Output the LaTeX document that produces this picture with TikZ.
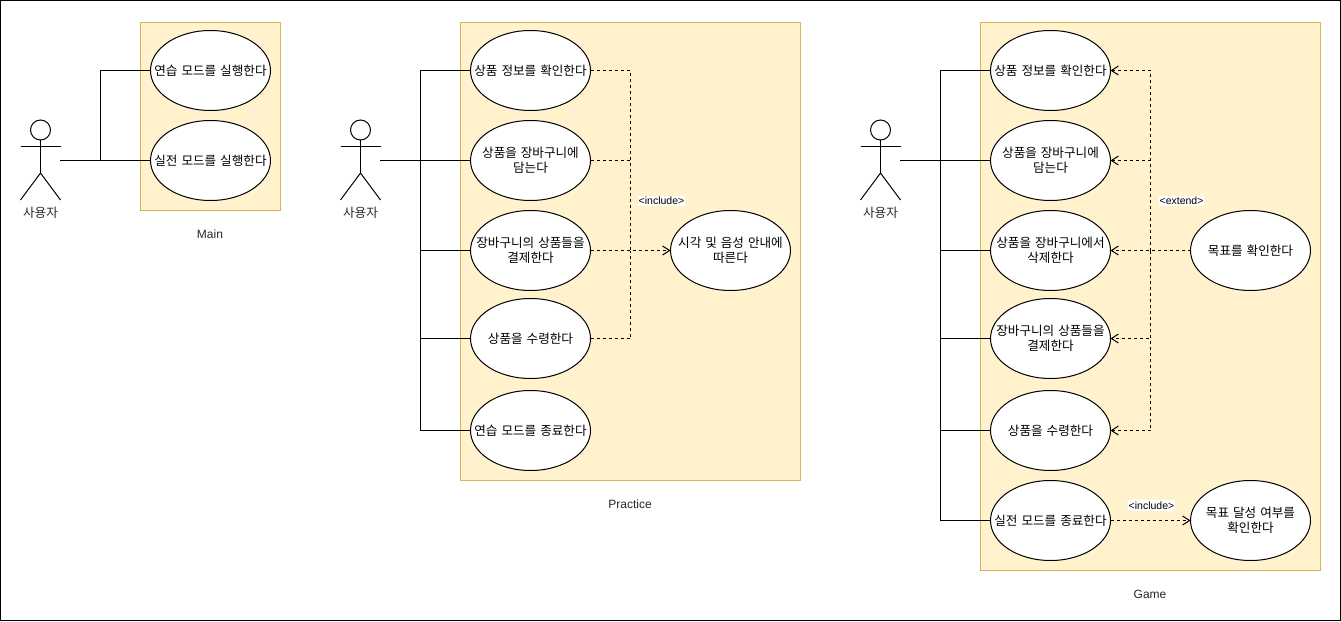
\documentclass[tikz,border=0pt]{standalone}
\usepackage{fontspec}
\setmainfont{Liberation Sans}
\newfontfamily\krfont[WordSpace=1.4]{Noto Sans CJK KR}
\usetikzlibrary{shapes.geometric,arrows.meta}
\tikzset{
  boundary/.style={draw=boundaryline,fill=boundaryfill,line width=1pt},
  usecase/.style={draw=black,fill=white,line width=1pt,ellipse,inner sep=0pt,outer sep=0pt,minimum width=120pt,minimum height=80pt},
  uctext/.style={font=\krfont\fontsize{12.6}{15}\selectfont,align=center,inner sep=0pt,text=black},
  actorline/.style={draw=black,line width=1pt},
  assoc/.style={draw=black,line width=1pt},
  depline/.style={draw=black,line width=1pt,dash pattern=on 3pt off 3pt},
  deparrow/.style={depline,-{Straight Barb[length=7pt,width=9pt,line width=1pt]}},
  actorname/.style={font=\krfont\fontsize{12.6}{14}\selectfont,inner sep=0pt,text=black!85},
  caption/.style={font=\fontsize{12}{14}\selectfont,inner sep=0pt,text=black!85},
  deplabel/.style={font=\fontsize{10.5}{12}\selectfont,fill=white,inner xsep=1pt,inner ysep=1.5pt,text=black},
}
\definecolor{boundaryfill}{HTML}{FFF2CC}
\definecolor{boundaryline}{HTML}{D6B656}
\newcommand{\actorfig}[1]{%
  \draw[actorline] (#1,130) circle (10pt);
  \draw[actorline] (#1,140) -- (#1,173);
  \draw[actorline] (#1-20,146.5) -- (#1+20,146.5);
  \draw[actorline] (#1-20,200) -- (#1,173) -- (#1+20,200);
}
\begin{document}
\begin{tikzpicture}[x=1pt,y=-1pt]
\useasboundingbox (0,0) rectangle (1341,621);
\draw[black,line width=1pt] (0.5,0.5) rectangle (1340.5,620.5);

% boundaries
\draw[boundary] (140.5,22.5) rectangle (280.5,210.5);
\draw[boundary] (460.5,22.5) rectangle (800.5,480.5);
\draw[boundary] (980.5,22.5) rectangle (1320.5,570.5);

% captions
\node[caption] (capm) at (210,234.5) {Main};
\node[caption] (capp) at (630,504.5) {Practice};
\node[caption] (capg) at (1150,594.5) {Game};

% actors
\actorfig{40.5}
\actorfig{360.5}
\actorfig{880.5}
\node[actorname] (an1) at (40.5,212.5) {사용자};
\node[actorname] (an2) at (360.5,212.5) {사용자};
\node[actorname] (an3) at (880.5,212.5) {사용자};
\coordinate (a1) at (60,160.5);
\coordinate (a2) at (380,160.5);
\coordinate (a3) at (900,160.5);
\coordinate (b1) at (100.5,160.5);
\coordinate (b2) at (420.5,160.5);
\coordinate (b3) at (940.5,160.5);

% Main use cases
\node[usecase,label={[uctext]center:{연습 모드를 실행한다}}] (m1) at (210.5,70.5) {};
\node[usecase,label={[uctext]center:{실전 모드를 실행한다}}] (m2) at (210.5,160.5) {};

% Practice use cases
\node[usecase,label={[uctext]center:{상품 정보를 확인한다}}] (p1) at (530.5,70.5) {};
\node[usecase,label={[uctext]center:{상품을 장바구니에\\담는다}}] (p2) at (530.5,160.5) {};
\node[usecase,label={[uctext]center:{장바구니의 상품들을\\결제한다}}] (p3) at (530.5,250.5) {};
\node[usecase,label={[uctext]center:{상품을 수령한다}}] (p4) at (530.5,338.5) {};
\node[usecase,label={[uctext]center:{연습 모드를 종료한다}}] (p5) at (530.5,430.5) {};
\node[usecase,label={[uctext]center:{시각 및 음성 안내에\\따른다}}] (p6) at (730.5,250.5) {};

% Game use cases
\node[usecase,label={[uctext]center:{상품 정보를 확인한다}}] (g1) at (1050.5,70.5) {};
\node[usecase,label={[uctext]center:{상품을 장바구니에\\담는다}}] (g2) at (1050.5,160.5) {};
\node[usecase,label={[uctext]center:{상품을 장바구니에서\\삭제한다}}] (g3) at (1050.5,250.5) {};
\node[usecase,label={[uctext]center:{장바구니의 상품들을\\결제한다}}] (g4) at (1050.5,338.5) {};
\node[usecase,label={[uctext]center:{상품을 수령한다}}] (g5) at (1050.5,430.5) {};
\node[usecase,label={[uctext]center:{실전 모드를 종료한다}}] (g6) at (1050.5,520.5) {};
\node[usecase,label={[uctext]center:{목표를 확인한다}}] (g7) at (1250.5,250.5) {};
\node[usecase,label={[uctext]center:{목표 달성 여부를\\확인한다}}] (g8) at (1250.5,520.5) {};

% associations
\draw[assoc] (a1) -- (m2.west);
\draw[assoc] (b1) |- (m1.west);

\draw[assoc] (a2) -- (p2.west);
\draw[assoc] (b2) |- (p1.west);
\draw[assoc] (b2) |- (p3.west);
\draw[assoc] (b2) |- (p4.west);
\draw[assoc] (b2) |- (p5.west);

\draw[assoc] (a3) -- (g2.west);
\draw[assoc] (b3) |- (g1.west);
\draw[assoc] (b3) |- (g3.west);
\draw[assoc] (b3) |- (g4.west);
\draw[assoc] (b3) |- (g5.west);
\draw[assoc] (b3) |- (g6.west);

% practice include
\coordinate (pj) at (630.5,250.5);
\draw[depline] (p1.east) -| (pj);
\draw[depline] (p2.east) -| (pj);
\draw[depline] (p4.east) -| (pj);
\draw[deparrow] (p3.east) -- (p6.west);
\node[deplabel] (il1) at (661.5,201) {<include>};

% game extend
\coordinate (gj) at (1150.5,250.5);
\draw[deparrow] (gj) |- (g1.east);
\draw[deparrow] (gj) |- (g2.east);
\draw[deparrow] (gj) |- (g4.east);
\draw[deparrow] (gj) |- (g5.east);
\draw[deparrow] (g7.west) -- (g3.east);
\node[deplabel] (el1) at (1181.5,201) {<extend>};

% game include
\draw[deparrow] (g6.east) -- (g8.west);
\node[deplabel] (il2) at (1151.5,505.5) {<include>};
\end{tikzpicture}
\end{document}
